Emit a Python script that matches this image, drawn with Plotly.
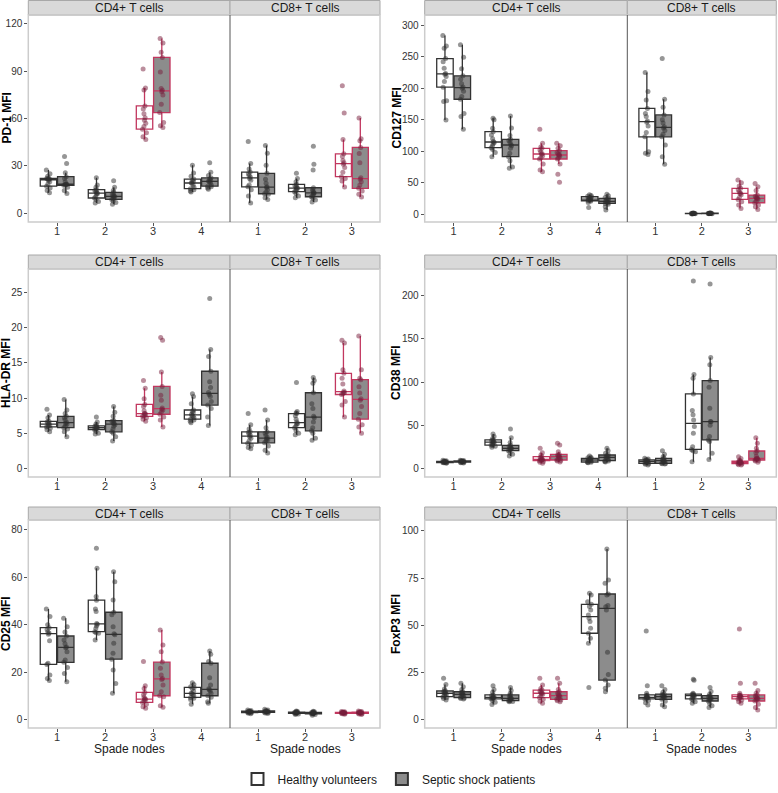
import plotly.graph_objects as go

W, H = 778, 793

# ---- data (MFI per donor, one list per spade node) ----
NODES_CD4 = ["1", "2", "3", "4"]
NODES_CD8 = ["1", "2", "3"]
FACETS = ["CD4+ T cells", "CD8+ T cells"]
GROUPS = ["Healthy volunteers", "Septic shock patients"]
MARKERS = ["PD-1 MFI", "CD127 MFI", "HLA-DR MFI", "CD38 MFI", "CD25 MFI", "FoxP3 MFI"]

PD1_CD4_HV = [
    [13, 14.5, 16, 17.2, 18.5, 20, 21, 21.5, 21.8, 22, 22.1, 23.5, 25, 27.4],
    [6.5, 7.5, 8.8, 9.7, 10.5, 12, 12.6, 13, 13.8, 14.5, 15, 16.5, 18, 22.5],
    [46.7, 48.5, 51, 53.3, 55, 57, 59, 60.5, 63, 66, 68, 78.1, 79.4, 91.4],
    [13.5, 14.2, 15, 15.6, 16.5, 18, 19, 19.4, 20.2, 21, 21.7, 23.5, 25.5, 30.5],
]
PD1_CD4_SS = [
    [12.6, 14.5, 16.5, 17.7, 17.9, 18.2, 18.4, 18.6, 20, 22, 23.2, 25.7, 31.6, 36],
    [5.7, 6.8, 7.8, 8.8, 9.3, 10, 10.5, 10.9, 11.5, 12.3, 13.3, 14.5, 16.5, 20.6],
    [54.3, 55.4, 57.5, 63.8, 69, 75, 77, 78, 79, 89.5, 98.7, 102, 107.8, 110.7],
    [15.2, 16, 16.8, 17.2, 18, 19.5, 20, 20.4, 21, 21.8, 22.5, 24, 26, 32],
]
PD1_CD8_HV = [
    [6.5, 11, 15, 16.8, 18, 21, 22, 23, 24, 25, 26.1, 28, 31.5, 45.5],
    [9.9, 11, 12.5, 13.7, 14.5, 15.3, 15.8, 16.2, 16.8, 17.5, 18.3, 20, 22, 25.3],
    [16.6, 20.4, 22, 23.2, 26, 29, 31, 32, 33.5, 36, 37.7, 46.7, 63.6, 80.8],
]
PD1_CD8_SS = [
    [8.8, 9.9, 12, 12.4, 13.5, 15, 16.3, 16.9, 19, 21.5, 25.3, 30.5, 38, 43],
    [7.2, 8.5, 9.5, 10.5, 11.2, 12, 12.8, 13.2, 14, 15, 16.2, 27.4, 31, 42.5],
    [10.3, 12, 14.1, 15.8, 18, 20, 21.5, 22.5, 32, 37.9, 41.7, 45.9, 47.2, 60.4],
]

CD127_CD4_HV = [
    [149.7, 178.8, 180, 201.6, 210.6, 218.5, 222, 223.5, 231.7, 242, 247, 263.5, 267, 283.6],
    [91.5, 98, 103, 105.8, 109, 112, 114, 115.5, 120, 126, 131.2, 136.5, 150, 152.4],
    [67.7, 70.4, 80, 87.8, 90, 93, 95.5, 96, 99, 102, 104.8, 107, 112.7, 135],
    [11, 19, 21, 21.7, 22.5, 23.5, 24, 24.6, 25.5, 27, 28, 29, 30, 31],
]
CD127_CD4_SS = [
    [135, 155, 160, 182.5, 186.8, 195, 200, 202, 207, 214, 219.6, 230.7, 249, 269],
    [73, 75, 85, 91.5, 96.8, 105, 109, 111, 114, 117, 119, 125, 137, 156],
    [51, 63.5, 80, 87.8, 89.5, 92, 94, 94.4, 96, 98, 101, 105, 109, 112.7],
    [6.9, 12, 16, 17.5, 18.5, 19.5, 20.4, 20.8, 22, 24, 25.4, 27, 29.5, 32],
]
CD127_CD8_HV = [
    [95, 96.8, 99.5, 123, 130, 140, 146, 148, 155, 160, 168, 181.5, 194.7, 224.9],
    [0.8, 1.0, 1.1, 1.2, 1.3, 1.4, 1.5, 1.5, 1.6, 1.7, 1.8, 1.9, 2.0, 2.2],
    [9.5, 14.8, 20, 23.8, 27, 31, 33, 33.6, 36, 39, 41.3, 45, 50, 54.5],
]
CD127_CD8_SS = [
    [79.4, 91.5, 110, 123, 127, 133, 137, 139, 145, 150, 157.7, 170, 182.5, 247],
    [1.0, 1.2, 1.3, 1.4, 1.5, 1.5, 1.6, 1.6, 1.7, 1.8, 1.9, 2.0, 2.1, 2.4],
    [7.9, 12, 15, 18.5, 21, 24, 25.2, 25.6, 27, 29, 30.7, 38, 44, 49.2],
]

HLADR_CD4_HV = [
    [5.2, 5.5, 5.7, 5.9, 6.0, 6.1, 6.2, 6.4, 6.5, 6.6, 6.7, 7.2, 7.6, 8.4],
    [4.9, 5.0, 5.3, 5.54, 5.6, 5.7, 5.8, 5.8, 5.9, 6.0, 6.06, 6.3, 6.6, 7.3],
    [6.7, 7.0, 7.2, 7.4, 7.5, 7.7, 7.8, 7.8, 8.2, 8.8, 9.1, 9.9, 11.4, 12.5],
    [6.5, 6.7, 6.9, 7.0, 7.2, 7.4, 7.5, 7.7, 7.9, 8.1, 8.3, 9.2, 10.2, 10.6],
]
HLADR_CD4_SS = [
    [4.5, 5.2, 5.6, 5.8, 6.0, 6.3, 6.4, 6.6, 6.9, 7.2, 7.4, 7.8, 8.3, 9.8],
    [3.9, 4.5, 5.0, 5.2, 5.6, 6.0, 6.2, 6.4, 6.5, 6.7, 6.8, 7.4, 8.0, 8.8],
    [5.9, 6.9, 7.3, 7.7, 8.0, 8.3, 8.4, 8.6, 9.7, 10.4, 11.65, 13.7, 18.2, 18.6],
    [6.1, 7.3, 8.5, 9.0, 9.5, 10.2, 10.5, 10.8, 11.5, 12.3, 13.8, 15.9, 16.9, 24.1],
]
HLADR_CD8_HV = [
    [2.8, 3.0, 3.3, 3.6, 3.9, 4.3, 4.5, 4.7, 4.9, 5.1, 5.2, 5.6, 6.2, 7.8],
    [4.8, 5.0, 5.4, 5.8, 6.0, 6.3, 6.4, 6.6, 7.0, 7.5, 7.8, 7.9, 8.1, 12.2],
    [7.3, 9.0, 9.5, 10.5, 10.6, 10.8, 10.8, 11.0, 12.0, 12.8, 13.5, 14.0, 17.8, 18.2],
]
HLADR_CD8_SS = [
    [2.2, 2.6, 3.2, 3.65, 3.9, 4.1, 4.2, 4.4, 4.7, 5.0, 5.2, 5.8, 6.9, 8.3],
    [4.0, 4.3, 5.0, 5.35, 5.8, 6.6, 7.2, 7.4, 8.5, 9.2, 10.75, 12.1, 12.5, 12.9],
    [5.0, 5.9, 6.2, 7.0, 7.8, 8.8, 9.7, 9.9, 10.7, 11.6, 12.6, 12.8, 14.0, 18.8],
]

CD38_CD4_HV = [
    [6.0, 6.4, 6.6, 6.8, 7.0, 7.2, 7.4, 7.6, 7.8, 8.0, 8.2, 8.5, 8.8, 9.3],
    [24.4, 25.5, 26.5, 27, 28, 29.5, 30.2, 30.8, 31.5, 32.2, 32.9, 34.5, 37, 39.8],
    [5.8, 7.0, 8.0, 8.9, 9.4, 10.0, 10.3, 10.5, 11.5, 12.5, 13.5, 15.5, 18, 23.2],
    [6.5, 7.0, 7.2, 7.4, 8.2, 9.0, 9.6, 9.8, 10.3, 11.0, 11.6, 12.3, 13.0, 14.3],
]
CD38_CD4_SS = [
    [6.2, 6.6, 7.0, 7.2, 7.4, 7.6, 7.8, 8.0, 8.2, 8.4, 8.6, 8.8, 9.0, 9.5],
    [14.3, 16.5, 18.5, 20.5, 21.5, 22.5, 23, 23.4, 24.5, 25.5, 26.7, 30, 35.6, 45.6],
    [7.4, 8.5, 9.2, 9.7, 10.5, 12, 13.3, 13.7, 14.5, 15.5, 16.2, 19.3, 27, 29],
    [7.4, 8.0, 8.5, 8.9, 10, 11.5, 12.6, 13.0, 13.8, 14.8, 15.5, 17.5, 20.5, 23.2],
]
CD38_CD8_HV = [
    [3.9, 4.8, 5.4, 5.8, 6.5, 7.2, 7.6, 7.8, 8.5, 9.2, 9.7, 10.2, 10.8, 11.6],
    [7.7, 19.3, 20.5, 22, 25, 40.6, 48.4, 56, 62, 67, 86.3, 104.4, 108.7, 217],
    [3.9, 4.3, 5.0, 5.4, 5.9, 6.5, 6.9, 7.1, 7.5, 8.0, 8.5, 9.5, 11.5, 13.5],
]
CD38_CD8_SS = [
    [5.0, 5.4, 5.6, 5.8, 6.8, 8.0, 8.8, 9.0, 9.8, 10.5, 11.6, 13.5, 16.5, 20.5],
    [10.4, 17.4, 31, 32.9, 36.8, 50, 54, 54.4, 69.6, 94, 101.7, 120, 128.4, 213.5],
    [7.0, 8.5, 9.2, 9.7, 10.2, 11.0, 11.5, 11.7, 14, 18, 20.1, 23.2, 29, 35.6],
]

CD25_CD4_HV = [
    [16.5, 17.4, 18.8, 23.3, 23.8, 33.3, 36, 36.6, 37, 38, 38.8, 40, 43.5, 46.7],
    [33.6, 36.4, 36.8, 37.1, 38.5, 39.5, 40.2, 40.6, 45.6, 46.7, 50.4, 51.9, 63.9, 72.3],
    [4.8, 5.5, 6.5, 7.3, 7.8, 8.4, 8.6, 8.8, 9.5, 10.5, 11.5, 13.2, 14.3, 24.5],
    [6.5, 8.5, 9.0, 9.4, 10.0, 10.6, 11.0, 11.2, 12.0, 13.0, 13.6, 13.9, 14.8, 15.6],
]
CD25_CD4_SS = [
    [16, 19.5, 22, 24.2, 25.2, 28.7, 30.3, 30.7, 32, 33.6, 35.3, 37, 39.2, 42.8],
    [11.1, 15.3, 21, 25.5, 28, 32.2, 35.8, 36.2, 39.2, 44.2, 45.3, 50.5, 58.2, 62.4],
    [5.2, 5.9, 9.7, 10.1, 11.8, 14.6, 17, 17.4, 18.8, 21.7, 24.3, 28.7, 31.5, 37.8],
    [6.9, 7.6, 9.5, 10.1, 11, 12, 12.6, 13.0, 14.6, 17.7, 23.8, 24.5, 27.6, 29],
]
CD25_CD8_HV = [
    [2.5, 2.7, 2.9, 3.0, 3.1, 3.2, 3.3, 3.3, 3.4, 3.5, 3.6, 3.7, 3.9, 4.1],
    [2.2, 2.4, 2.6, 2.7, 2.8, 2.9, 2.9, 3.0, 3.0, 3.1, 3.2, 3.3, 3.5, 3.7],
    [2.3, 2.5, 2.6, 2.7, 2.8, 2.8, 2.9, 2.9, 3.0, 3.0, 3.1, 3.2, 3.3, 3.5],
]
CD25_CD8_SS = [
    [2.6, 2.8, 3.0, 3.1, 3.2, 3.3, 3.4, 3.4, 3.5, 3.6, 3.7, 3.9, 4.1, 4.4],
    [1.9, 2.2, 2.4, 2.5, 2.6, 2.7, 2.8, 2.8, 2.9, 3.0, 3.1, 3.2, 3.4, 3.6],
    [2.2, 2.4, 2.5, 2.7, 2.8, 2.8, 2.9, 2.9, 3.0, 3.1, 3.2, 3.3, 3.5, 3.7],
]

FOXP3_CD4_HV = [
    [10.4, 11.2, 11.8, 12.2, 12.8, 13.5, 13.9, 14.1, 14.5, 14.9, 15.2, 16.2, 18.7, 21.9],
    [8.1, 9.2, 10.2, 11, 11.3, 11.6, 11.8, 11.8, 12.2, 12.7, 13.1, 14.5, 16, 18],
    [8.7, 9.8, 10.8, 11.7, 12.5, 13.5, 13.9, 14.1, 14.6, 15.2, 15.7, 16.5, 18.4, 21.9],
    [17, 40.5, 43.1, 45.8, 48.4, 52, 53.7, 55.5, 58.1, 60, 61.1, 62.5, 66, 67],
]
FOXP3_CD4_SS = [
    [11, 11.2, 11.5, 11.7, 12.3, 13, 13.3, 13.5, 14, 14.4, 14.8, 16, 17.5, 19.3],
    [9.5, 9.7, 9.9, 10.1, 10.5, 11, 11.2, 11.4, 12, 12.6, 13.1, 14, 15.5, 17.1],
    [9.5, 10, 10.4, 10.8, 11.5, 12.2, 12.6, 12.8, 13.5, 14.2, 14.8, 16, 19.3, 21.9],
    [14.8, 16.6, 18.4, 21, 24, 35.7, 58.1, 59.9, 60.5, 66, 66.6, 72.3, 74, 90.5],
]
FOXP3_CD8_HV = [
    [7.8, 9, 10.2, 11, 11.3, 11.6, 11.8, 11.8, 12.3, 12.7, 13.1, 14, 18, 47],
    [8.7, 9.5, 10.4, 11, 11.7, 12.4, 12.6, 12.8, 13, 13.3, 13.6, 14, 20.9, 21.4],
    [8.7, 9.5, 10.3, 11, 11.5, 12, 12.1, 12.3, 12.6, 12.9, 13.1, 14, 19.3, 48],
]
FOXP3_CD8_SS = [
    [6.9, 7.8, 9.8, 10.8, 11.3, 11.9, 12.1, 12.3, 12.8, 13.2, 13.6, 14.6, 16, 18],
    [6.4, 7.4, 8.6, 9.9, 10.4, 11, 11.2, 11.4, 11.8, 12.3, 12.7, 13.5, 15, 17.1],
    [5.1, 6.5, 8.2, 9.9, 10.4, 11, 11.2, 11.4, 12, 12.6, 13.1, 14, 15.5, 19.3],
]

DATA = {
    "PD-1 MFI": (PD1_CD4_HV, PD1_CD4_SS, PD1_CD8_HV, PD1_CD8_SS),
    "CD127 MFI": (CD127_CD4_HV, CD127_CD4_SS, CD127_CD8_HV, CD127_CD8_SS),
    "HLA-DR MFI": (HLADR_CD4_HV, HLADR_CD4_SS, HLADR_CD8_HV, HLADR_CD8_SS),
    "CD38 MFI": (CD38_CD4_HV, CD38_CD4_SS, CD38_CD8_HV, CD38_CD8_SS),
    "CD25 MFI": (CD25_CD4_HV, CD25_CD4_SS, CD25_CD8_HV, CD25_CD8_SS),
    "FoxP3 MFI": (FOXP3_CD4_HV, FOXP3_CD4_SS, FOXP3_CD8_HV, FOXP3_CD8_SS),
}

# axis ranges / tick steps per marker
YAX = {
    "PD-1 MFI": ([-5.5, 125.6], 30),
    "CD127 MFI": ([-12, 316], 50),
    "HLA-DR MFI": ([-1.2, 28.3], 5),
    "CD38 MFI": ([-10, 231], 50),
    "CD25 MFI": ([-3.5, 84.2], 20),
    "FoxP3 MFI": ([-4.4, 105.8], 25),
}

# ---- layout geometry (pixels) ----
COL_X = [(28.3, 230, 380), (424.7, 627.3, 776.3)]       # left, split, right
ROW_Y = [(0.5, 15, 222), (255, 269, 477), (507, 520, 728)]  # strip top, plot top, plot bottom
TITLE_X = [6, 396]

CRIMSON = "#C2375F"
DARK = "#333333"
SS_FILL = "#8C8C8C"
FONT = "Liberation Sans, Arial, sans-serif"


def fx(p):
    return p / W


def fy(p):
    return 1 - p / H


fig = go.Figure()
shapes, annots, layout_axes = [], [], {}

for i, marker in enumerate(MARKERS):
    row, col = divmod(i, 2)
    x0, xs, x1 = COL_X[col]
    st, pt, pb = ROW_Y[row]
    hv4, ss4, hv8, ss8 = DATA[marker]
    yrange, dtick = YAX[marker]
    facets = [(NODES_CD4, hv4, ss4, x0, xs), (NODES_CD8, hv8, ss8, xs, x1)]
    for f, (cats, hv, ss, a, b) in enumerate(facets):
        k = 2 * i + f + 1
        xa, ya = f"x{k}", f"y{k}"
        for g, vals in enumerate([hv, ss]):
            for hi in (False, True):
                xv, yv = [], []
                for node, v in zip(cats, vals):
                    if (node == "3") == hi:
                        xv += [node] * len(v)
                        yv += v
                fig.add_trace(go.Box(
                    x=xv, y=yv, xaxis=xa, yaxis=ya,
                    name=GROUPS[g], legendgroup=GROUPS[g],
                    showlegend=(k == 1 and not hi),
                    offsetgroup=str(g), alignmentgroup=xa,
                    boxpoints="all", jitter=0.3, pointpos=0,
                    whiskerwidth=0,
                    fillcolor="white" if g == 0 else SS_FILL,
                    line=dict(color=CRIMSON if hi else DARK, width=1.3),
                    marker=dict(size=5,
                                color="rgba(120,30,60,0.5)" if hi else "rgba(45,45,45,0.5)",
                                line=dict(width=0)),
                    hoverinfo="skip",
                ))
        layout_axes[f"xaxis{k}"] = dict(
            domain=[fx(a), fx(b)], anchor=ya, type="category",
            categoryorder="array", categoryarray=cats,
            range=[-0.6, len(cats) - 0.4], automargin=False,
            showgrid=False, zeroline=False, showline=False,
            ticks="outside", ticklen=3, tickcolor="#555",
            ticklabelstandoff=-4,
            tickfont=dict(size=11, color="#333"),
        )
        layout_axes[f"yaxis{k}"] = dict(
            domain=[fy(pb), fy(pt)], anchor=xa, range=yrange, dtick=dtick,
            automargin=False,
            showgrid=False, zeroline=False, showline=False,
            ticks="outside" if f == 0 else "", ticklen=3, tickcolor="#555",
            showticklabels=(f == 0),
            tickfont=dict(size=10, color="#333"),
        )
        # strip
        shapes.append(dict(type="rect", xref="paper", yref="paper",
                           x0=fx(a), x1=fx(b), y0=fy(pt), y1=fy(st),
                           fillcolor="#D9D9D9", line=dict(color="#A8A8A8", width=1)))
        annots.append(dict(text=FACETS[f], xref="paper", yref="paper",
                           x=fx((a + b) / 2), y=fy((st + pt) / 2),
                           xanchor="center", yanchor="middle",
                           showarrow=False, font=dict(size=12, color="#1a1a1a")))
        if row == 2:
            annots.append(dict(text="Spade nodes", xref="paper", yref="paper",
                               x=fx((a + b) / 2), y=fy(749),
                               xanchor="center", yanchor="middle",
                               showarrow=False, font=dict(size=12, color="#1a1a1a")))
    # panel frame and facet separator
    shapes.append(dict(type="rect", xref="paper", yref="paper",
                       x0=fx(x0), x1=fx(x1), y0=fy(pb), y1=fy(pt),
                       line=dict(color="#CCCCCC", width=1.5)))
    shapes.append(dict(type="line", xref="paper", yref="paper",
                       x0=fx(xs), x1=fx(xs), y0=fy(pb), y1=fy(pt),
                       line=dict(color="#555555", width=1)))
    annots.append(dict(text=f"<b>{marker}</b>", xref="paper", yref="paper",
                       x=fx(TITLE_X[col]), y=fy((pt + pb) / 2), textangle=-90,
                       xanchor="center", yanchor="middle",
                       showarrow=False, font=dict(size=12, color="black")))

fig.update_layout(
    template="none",
    width=W, height=H,
    margin=dict(l=0, r=0, t=0, b=0, autoexpand=False),
    paper_bgcolor="white", plot_bgcolor="white",
    font=dict(family=FONT, color="#1a1a1a"),
    boxmode="group", boxgap=0.28, boxgroupgap=0.05,
    shapes=shapes, annotations=annots,
    legend=dict(orientation="h", x=0.5, xanchor="center", y=fy(779), yanchor="middle",
                font=dict(size=12, color="#1a1a1a"), bgcolor="rgba(0,0,0,0)",
                itemsizing="constant"),
    **layout_axes,
)

# drop the default page margin so the figure sits at the window's top-left corner
fig.write_html("out.html", config={"displayModeBar": False},
               post_script="document.body.style.margin='0';")
